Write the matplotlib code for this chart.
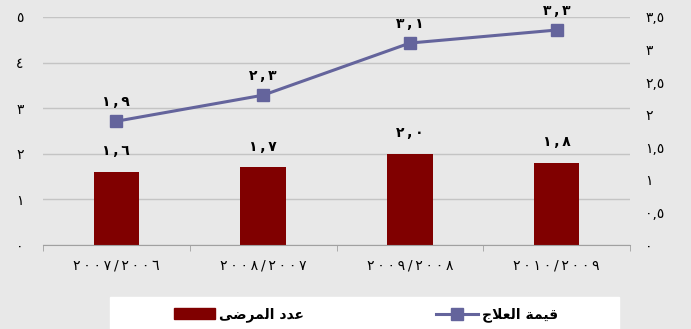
import matplotlib
matplotlib.use('Agg')
import matplotlib.pyplot as plt
from matplotlib.patches import Rectangle
from matplotlib.lines import Line2D
import numpy as np

# data
categories = ['2007/2006', '2008/2007', '2009/2008', '2010/2009']
patients = [1.6, 1.7, 2.0, 1.8]        # عدد المرضى (left axis)
treatment = [1.9, 2.3, 3.1, 3.3]       # قيمة العلاج (right axis)

# legend names, already shaped (presentation forms, visual order)
name_patients = '\uFEF0\uFEBF\uFEAE\uFEE4\uFEDF\uFE8D \uFEA9\uFEAA\uFECB'
name_treatment = '\uFE9D\uFEFC\uFECC\uFEDF\uFE8D \uFE94\uFEE4\uFEF4\uFED7'

DIGITS = str.maketrans('0123456789', '\u0660\u0661\u0662\u0663\u0664\u0665\u0666\u0667\u0668\u0669')
THIN = '\u2009'


def ar(s, spaced=False):
    t = str(s).translate(DIGITS)
    if spaced:
        t = THIN.join(t)
    return t


def ar_num(v, force_dec=False, spaced=False):
    if force_dec or v != int(v):
        return ar(f'{v:.1f}', spaced).replace('.', ',')
    return ar(int(v))


BG = '#e8e8e8'
BAR = '#800000'
LINE = '#64649c'

plt.rcParams['font.family'] = ['DejaVu Sans']

fig = plt.figure(figsize=(6.91, 3.29), dpi=100, facecolor=BG)
ax = fig.add_axes([43/691, 1 - 245/329, (630-43)/691, (245-17)/329])
ax.set_facecolor(BG)

x = np.arange(len(categories))
ax.bar(x, patients, width=0.31, color=BAR, zorder=2)
ax.set_xlim(-0.5, len(categories) - 0.5)
ax.set_ylim(0, 5)
ax.set_yticks(range(6))
ax.set_yticklabels([ar(i) for i in range(6)], fontsize=10)
ax.yaxis.grid(True, color='#c4c4c4', lw=1)
ax.set_axisbelow(True)
for s in ['left', 'right', 'top']:
    ax.spines[s].set_visible(False)
ax.spines['bottom'].set_color('#a0a0a0')
ax.tick_params(axis='y', length=0, pad=14)
ax.set_xticks(x)
ax.set_xticklabels([ar(c, True) for c in categories], fontsize=10)
ax.tick_params(axis='x', length=0, pad=10)
ax.set_xticks(np.arange(-0.5, len(categories)), minor=True)
ax.tick_params(axis='x', which='minor', length=4, color='#a0a0a0')

for xi, v in zip(x, patients):
    ax.annotate(ar_num(v, True, True), (xi, v), xytext=(0, 15), textcoords='offset points',
                ha='center', va='center', fontsize=10, fontweight='bold')

ax2 = ax.twinx()
ax2.patch.set_visible(False)
ax2.plot(x, treatment, color=LINE, lw=2.2, marker='s', markersize=9, zorder=3)
ax2.set_ylim(0, 3.5)
ticks2 = np.arange(0, 3.51, 0.5)
ax2.set_yticks(ticks2)
ax2.set_yticklabels([ar_num(t) for t in ticks2], fontsize=10, ha='left')
ax2.tick_params(axis='y', length=0, pad=11)
for s in ax2.spines.values():
    s.set_visible(False)

for xi, v in zip(x, treatment):
    ax2.annotate(ar_num(v, True, True), (xi, v), xytext=(0, 14), textcoords='offset points',
                 ha='center', va='center', fontsize=10, fontweight='bold')

# legend band
fig.patches.append(Rectangle((110/691, 0), (619-110)/691, 32/329,
                             transform=fig.transFigure, color='white', zorder=0))
handles = [Rectangle((0, 0), 1, 1, color=BAR),
           Line2D([], [], color=LINE, lw=2.2, marker='s', markersize=9)]
fig.legend(handles, [name_patients, name_treatment], ncol=2, frameon=False,
           loc='center', bbox_to_anchor=(366/691, 14/329),
           prop={'weight': 'bold', 'size': 10}, handlelength=3, handleheight=0.8,
           handletextpad=0.3, columnspacing=9.5)

fig.savefig('out.png', dpi=100, facecolor=BG)
